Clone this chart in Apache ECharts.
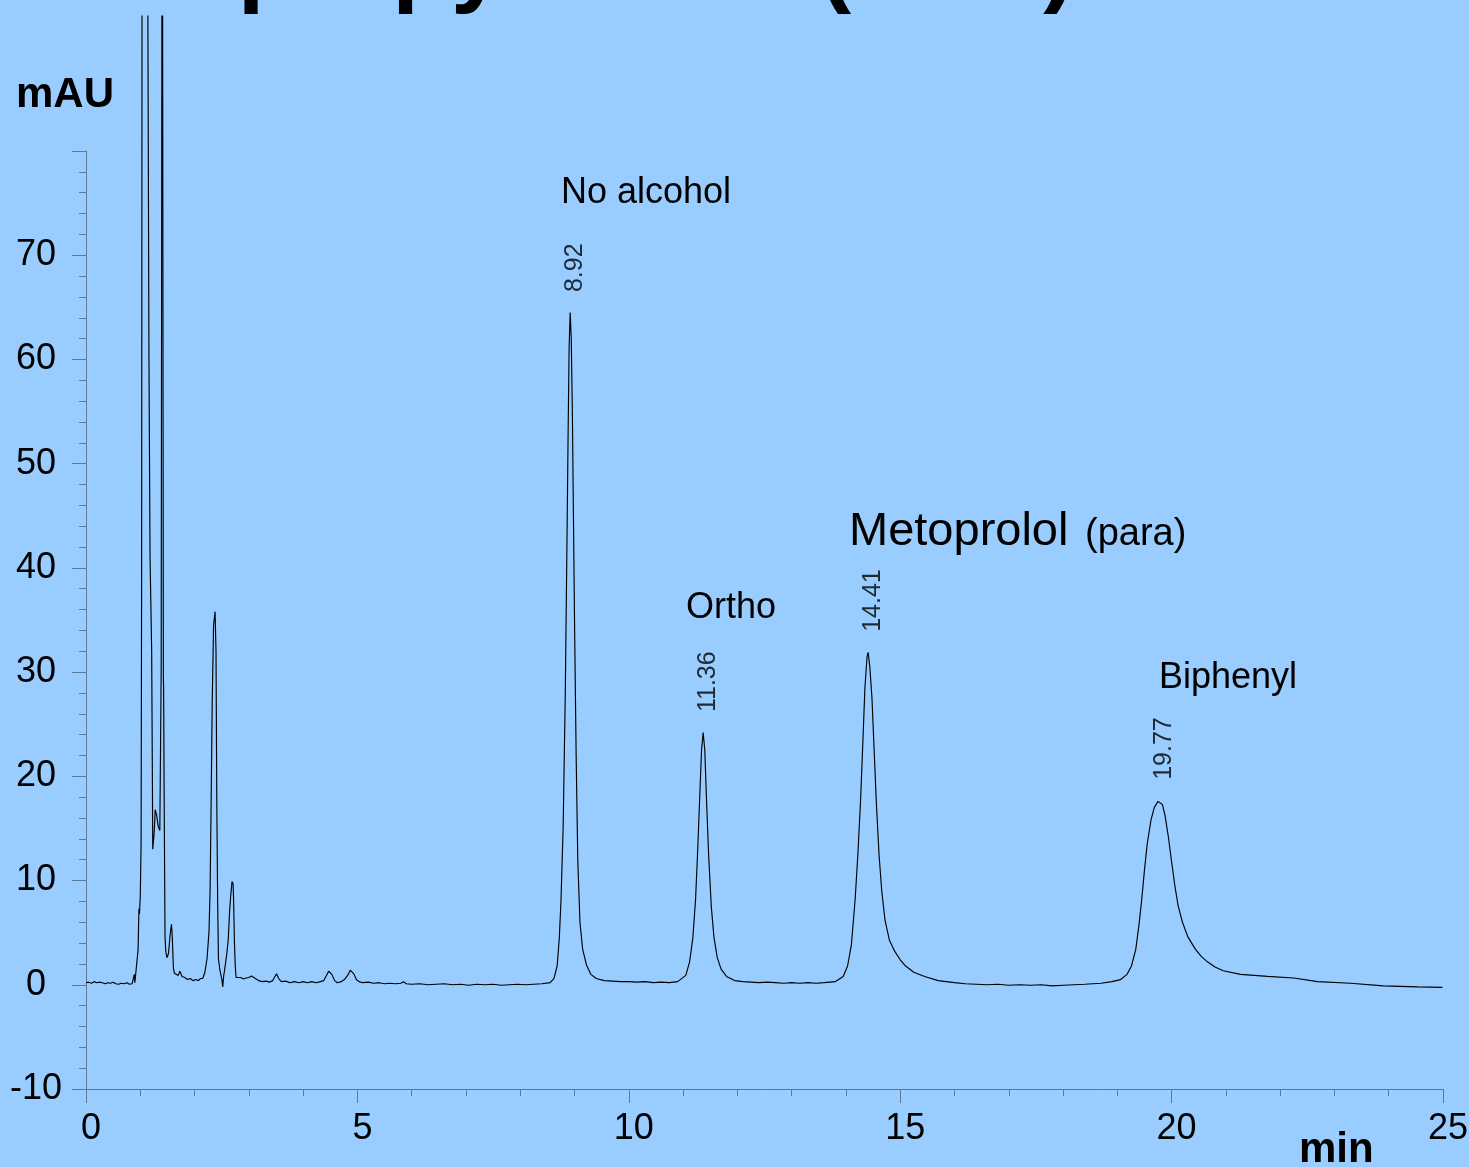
<!DOCTYPE html>
<html><head><meta charset="utf-8">
<script src="https://cdn.jsdelivr.net/npm/echarts@6/dist/echarts.min.js"></script>
<style>html,body{margin:0;padding:0;background:#99CCFF;overflow:hidden}#c{width:1469px;height:1167px}</style>
</head><body><div id="c"></div>
<script>
// ---- tick labels ----
const xTickLabels = [0, 5, 10, 15, 20, 25];
const yTickLabels = [-10, 0, 10, 20, 30, 40, 50, 60, 70];

// ---- chromatogram (time in min, signal in mAU); null = off-scale gap ----
const solventRegion = [
  [0.00,0.2],[0.05,0.25],[0.10,0.15],[0.15,0.3],[0.20,0.2],[0.25,0.25],[0.30,0.2],[0.35,0.1],
  [0.40,0.2],[0.45,0.15],[0.50,0.25],[0.55,0.1],[0.60,0.05],[0.65,0.15],[0.70,0.1],[0.75,0.2],
  [0.80,0.05],[0.85,0.1],[0.88,0.1],[0.89,1.0],[0.90,0.2],[0.93,0.3],[0.96,3.4],[0.975,7.3],
  [0.985,6.8],[1.00,8.5],[1.015,13.5],[1.025,40],[1.032,93],[1.09,null],[1.14,93],[1.16,60],
  [1.18,41],[1.21,32],[1.23,13.0],[1.255,14.5],[1.275,16.8],[1.30,16.3],[1.33,15.2],[1.36,14.8],
  [1.385,30],[1.398,93],[1.405,null],[1.412,93],[1.425,29.5],[1.43,28.5],[1.44,18],[1.456,4.6],
  [1.47,3.2],[1.49,2.6],[1.52,3.0],[1.55,4.8],[1.575,5.8],[1.59,4.5],[1.61,1.6],[1.63,1.1],
  [1.66,1.2],[1.70,0.9],[1.73,1.3],[1.77,0.8],[1.82,0.7],[1.87,0.5],[1.92,0.6],[1.97,0.4],
  [2.02,0.5],[2.07,0.4],[2.11,0.6],[2.15,0.6]
];
const earlyPeaks = [
  [2.19,1.2],[2.23,2.5],[2.265,5.0],[2.286,9.0],[2.305,17.4],[2.325,27],[2.35,34.5],[2.378,35.8],
  [2.395,32],[2.41,17.4],[2.425,8.2],[2.44,2.5],[2.47,1.3],[2.50,0.6],[2.52,-0.2],[2.535,0.8],
  [2.55,1.3],[2.59,2.8],[2.62,4.3],[2.645,7.0],[2.667,8.6],[2.69,9.9],[2.71,9.7],[2.72,8.0],
  [2.735,4.0],[2.75,1.8],[2.765,0.7]
];
const baselineA = [
  [2.80,0.6],[2.85,0.7],[2.90,0.55],[2.95,0.65],[3.00,0.7],[3.05,0.85],[3.08,0.9],[3.12,0.6],
  [3.18,0.4],[3.25,0.3],[3.32,0.35],[3.38,0.25],[3.44,0.4],[3.48,0.8],[3.51,1.05],[3.55,0.6],
  [3.60,0.3],[3.68,0.35],[3.76,0.2],[3.84,0.3],[3.92,0.2],[4.00,0.3],[4.08,0.2],[4.16,0.3],
  [4.24,0.2],[4.32,0.3],[4.38,0.4],[4.43,0.9],[4.47,1.3],[4.50,1.4],[4.53,1.0],[4.58,0.4],
  [4.63,0.2],[4.70,0.3],[4.76,0.5],[4.82,0.9],[4.87,1.4],[4.90,1.5],[4.94,1.0],[4.98,0.5],
  [5.03,0.3],[5.10,0.2],[5.20,0.25],[5.30,0.15],[5.40,0.2],[5.50,0.1],[5.60,0.15],[5.70,0.1],
  [5.80,0.15],[5.85,0.3],[5.90,0.1],[6.00,0.05],[6.15,0.1],[6.30,0.0],[6.45,0.05],[6.60,0.1],
  [6.75,0.0],[6.90,0.05],[7.05,-0.05],[7.20,0.05],[7.35,0.0],[7.50,0.05],[7.65,-0.05],[7.80,0.0],
  [7.95,0.05],[8.10,0.0],[8.25,0.05],[8.40,0.1]
];
const peakNoAlcohol = [
  [8.55,0.2],[8.62,0.6],[8.68,1.8],[8.72,4.5],[8.75,8.0],[8.79,15],[8.83,28],[8.86,42],[8.88,52],
  [8.90,61],[8.92,64.5],[8.94,62],[8.96,55],[8.98,45],[9.00,35],[9.03,22],[9.06,12],[9.10,6.0],
  [9.15,3.4],[9.22,1.9],[9.30,1.0],[9.40,0.6],[9.55,0.4]
];
const baselineB = [
  [9.70,0.35],[9.85,0.3],[10.00,0.3],[10.15,0.25],[10.30,0.3],[10.45,0.2],[10.60,0.25],[10.75,0.2]
];
const peakOrtho = [
  [10.90,0.3],[11.05,0.9],[11.12,2.2],[11.18,4.5],[11.23,8.2],[11.27,13],[11.31,18.5],[11.34,22.5],
  [11.37,24.2],[11.40,22.5],[11.43,18],[11.47,12.5],[11.52,7.5],[11.57,4.5],[11.63,2.6],[11.70,1.5],
  [11.80,0.8],[11.95,0.4]
];
const baselineC = [
  [12.10,0.3],[12.25,0.25],[12.40,0.2],[12.55,0.25],[12.70,0.2],[12.85,0.15],[13.00,0.2],[13.15,0.15],
  [13.30,0.2],[13.45,0.15],[13.60,0.2]
];
const peakMetoprolol = [
  [13.80,0.3],[13.95,0.8],[14.03,1.8],[14.10,3.8],[14.17,8.2],[14.22,12.5],[14.27,17.7],[14.31,23],
  [14.35,28.5],[14.39,31.5],[14.41,31.9],[14.44,30.5],[14.48,27.5],[14.52,22.5],[14.56,17.5],
  [14.61,12.5],[14.66,9.0],[14.72,6.2],[14.80,4.3],[14.90,3.2],[15.00,2.4],[15.10,1.8],[15.25,1.2],
  [15.45,0.8],[15.70,0.4],[16.00,0.2]
];
const baselineD = [
  [16.20,0.1],[16.40,0.05],[16.60,0.0],[16.80,0.05],[17.00,-0.05],[17.20,0.0],[17.40,-0.05],
  [17.60,0.0],[17.80,-0.1],[18.00,-0.05],[18.20,0.0],[18.40,0.05],[18.55,0.1]
];
const peakBiphenyl = [
  [18.70,0.15],[18.90,0.3],[19.06,0.5],[19.18,1.0],[19.26,1.8],[19.34,3.4],[19.40,5.8],[19.45,8.2],
  [19.50,11],[19.55,13.5],[19.62,15.8],[19.68,17.0],[19.75,17.6],[19.78,17.7],[19.83,17.3],
  [19.88,16.2],[19.94,14.2],[20.00,11.8],[20.06,9.5],[20.12,7.6],[20.20,6.0],[20.30,4.6],[20.44,3.4],
  [20.55,2.7],[20.66,2.2],[20.80,1.7],[20.95,1.35],[21.27,1.0],[21.77,0.8],[22.25,0.65],[22.69,0.3],
  [23.30,0.15],[23.90,-0.1],[24.53,-0.2],[24.99,-0.25]
];

// ---- peak annotations ----
const peakTimes = [8.92, 11.36, 14.41, 19.77];
const peakHeights = [64.5, 24.2, 31.9, 17.7];

const FF = '"Liberation Sans", Arial, Helvetica, sans-serif';
const AX = '#5f7893';

const chrom = [].concat(solventRegion, earlyPeaks, baselineA, peakNoAlcohol, baselineB,
  peakOrtho, baselineC, peakMetoprolol, baselineD, peakBiphenyl)
  .map(p => [p[0], p[1] === null ? '-' : p[1]]);

const chart = echarts.init(document.getElementById('c'), null, {renderer: 'canvas'});

function txt(text, x, y, size, weight) {
  return {type: 'text', x: x, y: y, silent: true, z: 10,
    style: {text: text, fill: '#000', font: (weight || 'normal') + ' ' + size + 'px ' + FF,
      align: 'left', verticalAlign: 'middle', textAlign: 'left', textVerticalAlign: 'middle'}};
}

chart.setOption({
  animation: false,
  backgroundColor: '#99CCFF',
  grid: {left: 86, right: 26, top: 151, bottom: 78, containLabel: false, outerBoundsMode: 'none'},
  xAxis: {
    type: 'value', min: 0, max: 25, interval: 5,
    axisLine: {show: true, onZero: false, lineStyle: {color: AX, width: 1}},
    axisTick: {show: true, length: 14, lineStyle: {color: AX, width: 1}},
    minorTick: {show: true, splitNumber: 5, length: 7, lineStyle: {color: AX, width: 1}},
    splitLine: {show: false}, minorSplitLine: {show: false},
    axisLabel: {fontSize: 36, color: '#000', fontFamily: FF, margin: 22, padding: [0, 0, 0, 10],
      showMinLabel: true, showMaxLabel: true, hideOverlap: false,
      formatter: v => xTickLabels.includes(v) ? String(v) : ''}
  },
  yAxis: {
    type: 'value', min: -10, max: 80, interval: 10,
    axisLine: {show: true, onZero: false, lineStyle: {color: AX, width: 1}},
    axisTick: {show: true, length: 14, lineStyle: {color: AX, width: 1}},
    minorTick: {show: true, splitNumber: 5, length: 7, lineStyle: {color: AX, width: 1}},
    splitLine: {show: false}, minorSplitLine: {show: false},
    axisLabel: {fontSize: 36, color: '#000', fontFamily: FF, margin: 50, align: 'center',
      padding: [6, 0, 0, 0],
      showMinLabel: true, showMaxLabel: true, hideOverlap: false,
      formatter: v => yTickLabels.includes(v) ? String(v) : ''}
  },
  series: [
    {type: 'line', data: chrom, symbol: 'none', showSymbol: false, clip: false, connectNulls: false,
      lineStyle: {color: '#000', width: 1.15}, itemStyle: {color: '#000'}, z: 3, silent: true},
    {type: 'scatter', data: peakTimes.map((t, i) => [t, peakHeights[i]]), symbolSize: 1,
      itemStyle: {color: 'rgba(0,0,0,0)'}, silent: true, z: 4,
      label: {show: true, position: 'top', distance: 20, rotate: 90, align: 'left', verticalAlign: 'middle',
        offset: [0, 5],
        fontSize: 25, color: '#000', fontFamily: FF, formatter: p => p.value[0].toFixed(2)}}
  ],
  graphic: [
    txt('Isopropyl ether (10%)', 99, -32, 96, 'bold'),
    txt('mAU', 16, 95.3, 42, 'bold'),
    txt('min', 1299, 1150.4, 42, 'bold'),
    txt('No alcohol', 561, 193.5, 36),
    txt('Ortho', 686, 608.2, 36),
    txt('Metoprolol', 849, 532.2, 47),
    txt('(para)', 1085, 534.6, 38),
    txt('Biphenyl', 1159, 678.5, 36)
  ]
});
</script></body></html>
